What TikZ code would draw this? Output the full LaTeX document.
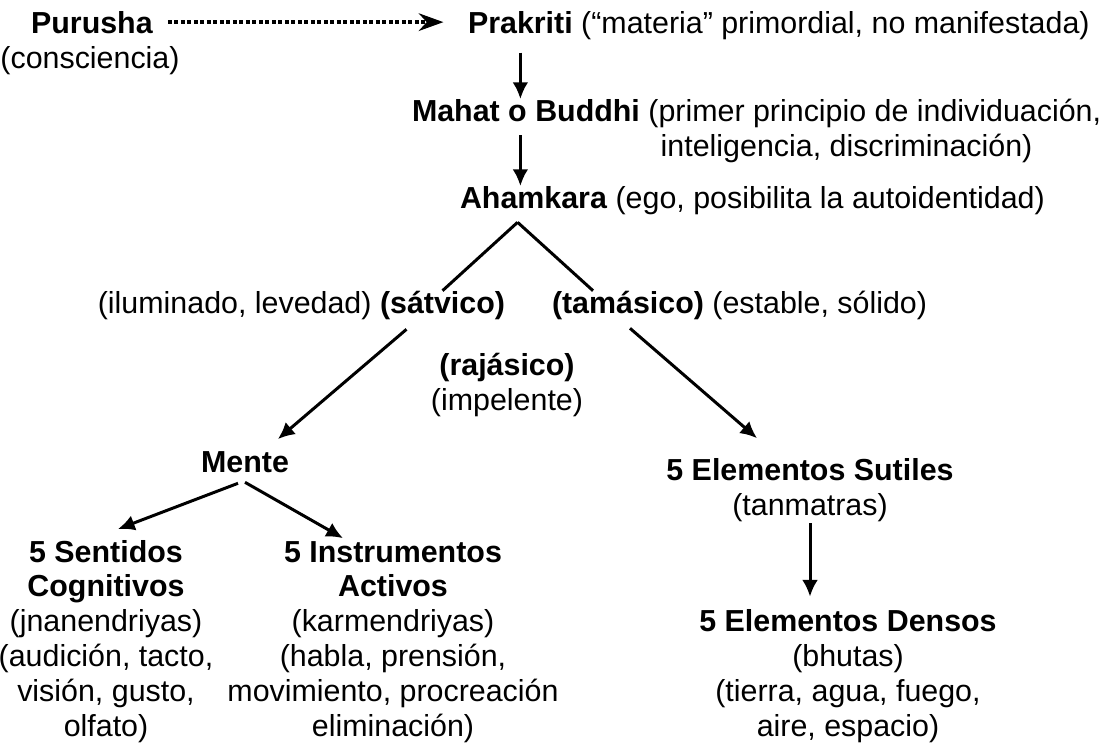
\documentclass[tikz,border=0pt]{standalone}
\usepackage{fontspec}
\setmainfont{Liberation Sans}
\usetikzlibrary{arrows.meta,positioning,calc}

\tikzset{
  arr/.style={line width=1.7pt, -{Latex[length=9.5pt,width=9pt]}},
  ln/.style={line width=1.7pt},
  dotarr/.style={line width=2.1pt, dash pattern=on 2.1pt off 1.6pt,
    -{Stealth[length=14pt,width=10pt,inset=4.5pt]}},
}

\begin{document}
\begin{tikzpicture}[x={(0.02cm,0cm)},y={(0cm,-0.02cm)},every node/.style={inner sep=0pt, outer sep=0pt, font=\fontsize{17.3}{19.8}\selectfont}]
\useasboundingbox (0,0) rectangle (1116,751);

% top row
\node[anchor=base] (purusha) at (92,33) {\textbf{Purusha}};
\node[anchor=base] (consciencia) at (90,68) {(consciencia)};
\node[anchor=base west] (prakriti) at (468,33) {\textbf{Prakriti}};
\node[base right=4.8pt of prakriti] (prakritinote) {(“materia” primordial, no manifestada)};

\node[anchor=base west] (mahat) at (412,121) {\textbf{Mahat o Buddhi}};
\node[anchor=north west, align=left] (mahatnote) at ($(mahat.base east)+(8.5,-22)$) {(primer principio de individuación,\\\hspace*{7pt}inteligencia, discriminación)};

\node[anchor=base west] (ahamkara) at (460,208) {\textbf{Ahamkara}};
\node[base right=4.8pt of ahamkara] (ahamkaranote) {(ego, posibilita la autoidentidad)};

% gunas
\node[anchor=base east] (satvico) at (505,313) {\textbf{(sátvico)}};
\node[base left=4.8pt of satvico] (satviconote) {(iluminado, levedad)};
\node[anchor=base west] (tamasico) at (552,313) {\textbf{(tamásico)}};
\node[base right=4.8pt of tamasico] (tamasiconote) {(estable, sólido)};
\node[anchor=base, align=center] (rajasico) at (507,410) {\textbf{(rajásico)}\\(impelente)};

% lower part
\node[anchor=base] (mente) at (245,472) {\textbf{Mente}};
\node[anchor=base, align=center] (sentidos) at (106,736) {\textbf{5 Sentidos}\\\textbf{Cognitivos}\\(jnanendriyas)\\(audición, tacto,\\visión, gusto,\\olfato)};
\node[anchor=base, align=center] (instrumentos) at (393,736) {\textbf{5 Instrumentos}\\\textbf{Activos}\\(karmendriyas)\\(habla, prensión,\\movimiento, procreación\\eliminación)};
\node[anchor=base, align=center] (sutiles) at (810,515) {\textbf{5 Elementos Sutiles}\\(tanmatras)};
\node[anchor=base, align=center] (densos) at (848,736) {\textbf{5 Elementos Densos}\\(bhutas)\\(tierra, agua, fuego,\\aire, espacio)};

% connectors
\draw[dotarr, shorten <=8.5pt, shorten >=14pt] (purusha.east) -- (prakriti.west);
\draw[arr, shorten <=11pt] (prakriti.south) -- (prakriti.south |- mahat.north);
\draw[arr, shorten <=8pt] (prakriti.south |- mahat.south) -- (prakriti.south |- ahamkara.north);

\coordinate (split) at ($(ahamkara.south)+(-16,14)$);
\draw[ln] (split) -- (satvico.north);
\draw[ln] (split) -- ($(tamasico.north west)!0.27!(tamasico.north east)$);

\draw[arr] ($(satvico.south)+(-36,10)$) -- ($(mente.north east)+(-11,-12)$);
\draw[arr] ($(tamasico.south)+(2,9)$) -- ($(sutiles.north)+(-53,-20)$);

\draw[arr] ($(mente.south)+(-7,11)$) -- ($(sentidos.north)+(12,-11)$);
\draw[arr] ($(mente.south)+(0,10)$) -- ($(instrumentos.north)+(-50,-3)$);
\draw[arr, shorten <=1pt, shorten >=7.4pt] (sutiles.south) -- (sutiles.south |- densos.north);
\end{tikzpicture}
\end{document}
